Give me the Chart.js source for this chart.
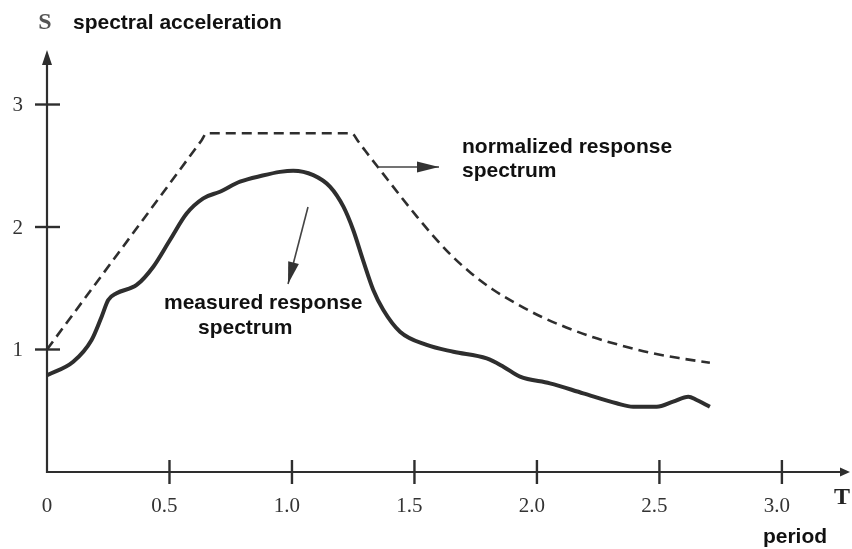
<!DOCTYPE html>
<html lang="en">
<head>
  <meta charset="UTF-8" />
  <title>Response spectrum</title>
  <script src="https://cdn.jsdelivr.net/npm/chart.js"></script>
  <style>
    html, body { margin: 0; padding: 0; background: #fff; }
    canvas { display: block; }
  </style>
</head>
<body>
  <canvas id="spectrum" width="852" height="549"></canvas>

  <script>
    // normalized (design) spectrum: ramp, plateau, then decay
    const normT = [0, 0.63, 0.652, 1.244, 1.27, 1.30, 1.37, 1.44, 1.51, 1.58, 1.65, 1.73, 1.82, 1.92, 2.02, 2.12, 2.23, 2.34, 2.46, 2.58, 2.706];
    const normS = [1.0, 2.705, 2.765, 2.765, 2.70, 2.62, 2.44, 2.26, 2.085, 1.92, 1.77, 1.625, 1.49, 1.37, 1.265, 1.18, 1.10, 1.035, 0.975, 0.93, 0.892];

    // measured spectrum
    const measT = [0, 0.107, 0.182, 0.223, 0.25, 0.284, 0.366, 0.434, 0.502, 0.57, 0.638, 0.706, 0.788, 0.88, 0.951, 1.005, 1.087, 1.155, 1.21, 1.25, 1.29, 1.332, 1.373, 1.441, 1.55, 1.659, 1.795, 1.863, 1.931, 2.053, 2.189, 2.325, 2.393, 2.489, 2.556, 2.618, 2.652, 2.706];
    const measS = [0.79, 0.9, 1.078, 1.268, 1.404, 1.459, 1.527, 1.676, 1.894, 2.11, 2.234, 2.288, 2.37, 2.42, 2.45, 2.46, 2.424, 2.33, 2.166, 1.976, 1.73, 1.486, 1.322, 1.145, 1.037, 0.982, 0.928, 0.86, 0.778, 0.724, 0.642, 0.561, 0.533, 0.533, 0.574, 0.615, 0.588, 0.533];

    const periodTicks = [0, 0.5, 1.0, 1.5, 2.0, 2.5, 3.0];
    const periodLabels = ['0', '0.5', '1.0', '1.5', '2.0', '2.5', '3.0'];
    const accelTicks = [1, 2, 3];
    const accelLabels = ['1', '2', '3'];

    const ink = '#2e2e2e';
    const sans = '"Liberation Sans", Arial, sans-serif';
    const serif = '"Liberation Serif", "Times New Roman", serif';

    const toPoints = (xs, ys) => xs.map((x, i) => ({ x: x, y: ys[i] }));

    function arrowHead(ctx, x0, y0, x1, y1, len, half) {
      const a = Math.atan2(y1 - y0, x1 - x0);
      ctx.beginPath();
      ctx.moveTo(x1, y1);
      ctx.lineTo(x1 - len * Math.cos(a) + half * Math.sin(a), y1 - len * Math.sin(a) - half * Math.cos(a));
      ctx.lineTo(x1 - len * Math.cos(a) - half * Math.sin(a), y1 - len * Math.sin(a) + half * Math.cos(a));
      ctx.closePath();
      ctx.fill();
    }

    function arrow(ctx, x0, y0, x1, y1) {
      ctx.lineWidth = 1.6;
      ctx.beginPath();
      ctx.moveTo(x0, y0);
      ctx.lineTo(x1, y1);
      ctx.stroke();
      arrowHead(ctx, x0, y0, x1, y1, 22, 5.5);
    }

    // axes with crossing ticks, arrows and the annotations
    const figureAxes = {
      id: 'figureAxes',
      afterDraw(chart) {
        const { ctx, scales: { x, y } } = chart;
        const x0 = x.getPixelForValue(0);
        const y0 = y.getPixelForValue(0);
        const xEnd = x.getPixelForValue(x.max);
        const yEnd = y.getPixelForValue(y.max);

        ctx.save();
        ctx.strokeStyle = ink;
        ctx.fillStyle = ink;
        ctx.lineWidth = 2.2;
        ctx.beginPath();
        ctx.moveTo(x0, yEnd + 10);
        ctx.lineTo(x0, y0);
        ctx.lineTo(xEnd - 8, y0);
        ctx.stroke();
        arrowHead(ctx, x0, y0, x0, yEnd, 15, 5);
        arrowHead(ctx, x0, y0, xEnd, y0, 10, 4.5);

        ctx.lineWidth = 2.4;
        periodTicks.forEach(t => {
          if (t === 0) return;
          const px = x.getPixelForValue(t);
          ctx.beginPath();
          ctx.moveTo(px, y0 - 12);
          ctx.lineTo(px, y0 + 12);
          ctx.stroke();
        });
        accelTicks.forEach(s => {
          const py = y.getPixelForValue(s);
          ctx.beginPath();
          ctx.moveTo(x0 - 12, py);
          ctx.lineTo(x0 + 13, py);
          ctx.stroke();
        });

        ctx.fillStyle = '#333';
        ctx.font = '21px ' + serif;
        ctx.textAlign = 'center';
        ctx.textBaseline = 'middle';
        periodTicks.forEach((t, i) => {
          const shift = t === 0 ? 0 : -5;
          ctx.fillText(periodLabels[i], x.getPixelForValue(t) + shift, y0 + 34);
        });
        ctx.textAlign = 'right';
        accelTicks.forEach((s, i) => {
          ctx.fillText(accelLabels[i], x0 - 24, y.getPixelForValue(s) + 1);
        });

        ctx.font = 'bold 24px ' + serif;
        ctx.fillStyle = '#555';
        ctx.textAlign = 'center';
        ctx.fillText('S', x0 - 2, 23);
        ctx.fillStyle = '#222';
        ctx.fillText('T', xEnd - 8, y0 + 26);

        ctx.fillStyle = '#111';
        ctx.font = 'bold 21px ' + sans;
        ctx.textAlign = 'left';
        ctx.fillText('spectral acceleration', 73, 23);
        ctx.textAlign = 'center';
        ctx.fillText('period', 795, y0 + 65);
        ctx.textAlign = 'left';
        ctx.fillText('normalized response', 462, 147);
        ctx.fillText('spectrum', 462, 171);
        ctx.fillText('measured response', 164, 303);
        ctx.fillText('spectrum', 198, 328);

        ctx.strokeStyle = '#444';
        ctx.fillStyle = '#333';
        arrow(ctx, 378, 167, 439, 167);
        arrow(ctx, 308, 207, 288, 284);
        ctx.restore();
      }
    };

    new Chart(document.getElementById('spectrum'), {
      type: 'line',
      data: {
        datasets: [
          {
            label: 'normalized response spectrum',
            data: toPoints(normT, normS),
            borderColor: ink,
            borderWidth: 2.6,
            borderDash: [10, 6],
            cubicInterpolationMode: 'monotone',
            pointRadius: 0,
            fill: false
          },
          {
            label: 'measured response spectrum',
            data: toPoints(measT, measS),
            borderColor: ink,
            borderWidth: 4,
            cubicInterpolationMode: 'monotone',
            pointRadius: 0,
            fill: false
          }
        ]
      },
      options: {
        responsive: false,
        animation: false,
        layout: { padding: { left: 47, right: 2, top: 50, bottom: 77 } },
        plugins: { legend: { display: false }, tooltip: { enabled: false } },
        scales: {
          x: { type: 'linear', min: 0, max: 3.278, display: false },
          y: { type: 'linear', min: 0, max: 3.445, display: false }
        }
      },
      plugins: [figureAxes]
    });
  </script>
</body>
</html>
